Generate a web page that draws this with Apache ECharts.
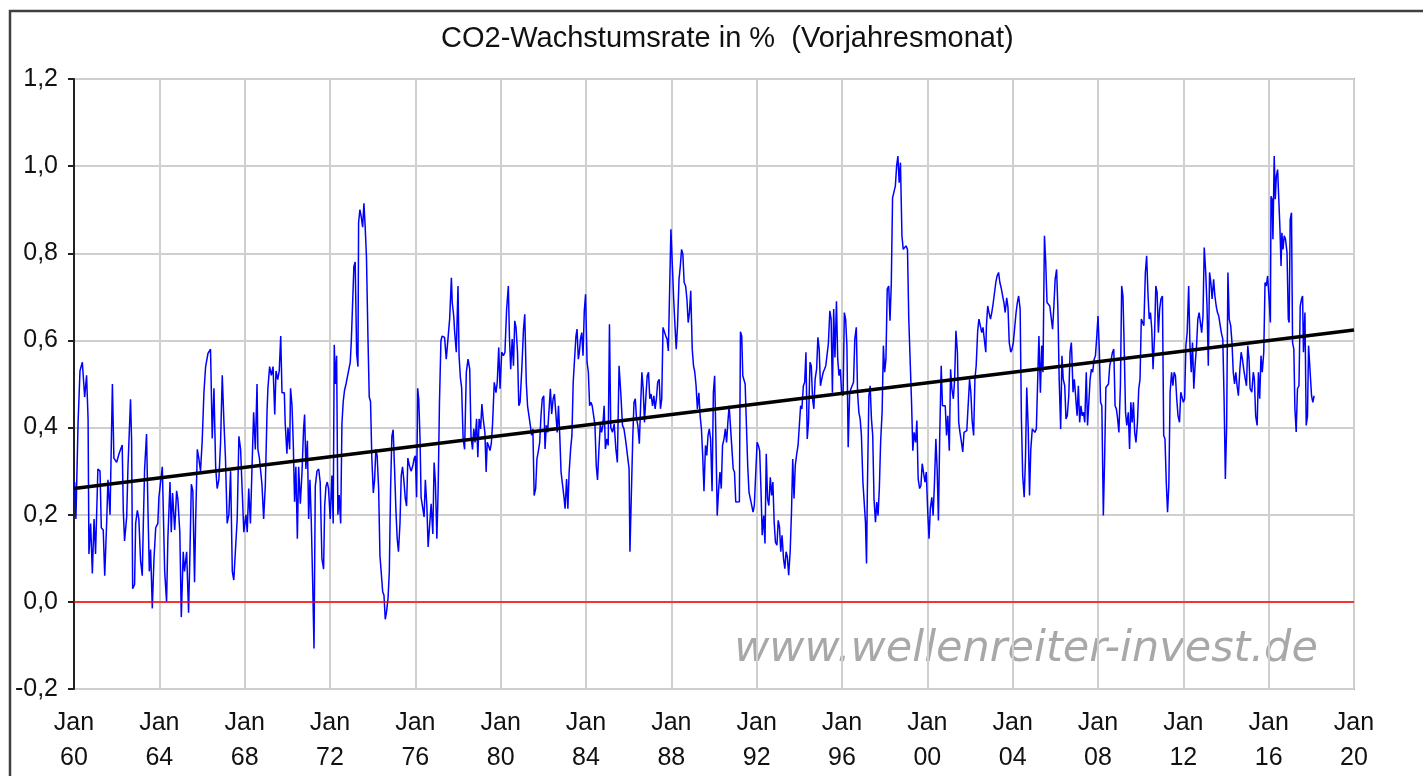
<!DOCTYPE html>
<html>
<head>
<meta charset="utf-8">
<title>CO2-Wachstumsrate</title>
<script src="https://cdn.jsdelivr.net/npm/echarts@6.0.0/dist/echarts.min.js"></script>
<style>
  html, body { margin: 0; padding: 0; background: #fff; }
  #co2_main { width: 1423px; height: 776px; }
</style>
</head>
<body>
<div id="co2_main"></div>
<script>
// Monatswerte (Dezimaljahr, Wachstum in % gg. Vorjahresmonat)
var zeitreihe = [
  [1960.03,0.275],[1960.09,0.19],[1960.19,0.41],[1960.28,0.53],[1960.39,0.55],[1960.50,0.47],[1960.59,0.52],[1960.66,0.42],[1960.70,0.11],[1960.78,0.18],[1960.86,0.065],[1960.94,0.19],[1961.01,0.11],[1961.12,0.305],[1961.22,0.30],[1961.28,0.17],[1961.37,0.165],[1961.44,0.06],[1961.53,0.18],[1961.59,0.28],[1961.69,0.20],[1961.80,0.50],[1961.87,0.33],[1962.00,0.32],[1962.11,0.34],[1962.26,0.36],[1962.31,0.21],[1962.37,0.14],[1962.47,0.195],[1962.53,0.31],[1962.65,0.465],[1962.70,0.37],[1962.75,0.03],[1962.84,0.04],[1962.89,0.18],[1962.97,0.21],[1963.04,0.19],[1963.12,0.095],[1963.20,0.06],[1963.25,0.18],[1963.31,0.305],[1963.40,0.385],[1963.47,0.205],[1963.53,0.07],[1963.59,0.12],[1963.67,-0.015],[1963.75,0.10],[1963.83,0.17],[1963.93,0.18],[1963.98,0.24],
  [1964.14,0.31],[1964.25,0.07],[1964.34,0.0],[1964.40,0.145],[1964.50,0.275],[1964.56,0.16],[1964.62,0.25],[1964.72,0.165],[1964.81,0.255],[1964.87,0.235],[1964.96,0.16],[1965.03,-0.035],[1965.12,0.115],[1965.18,0.07],[1965.28,0.115],[1965.37,-0.025],[1965.43,0.10],[1965.50,0.27],[1965.57,0.255],[1965.65,0.045],[1965.70,0.18],[1965.78,0.35],[1965.85,0.33],[1965.93,0.30],[1966.01,0.37],[1966.09,0.48],[1966.17,0.54],[1966.28,0.57],[1966.40,0.58],[1966.48,0.375],[1966.56,0.49],[1966.64,0.31],[1966.71,0.26],[1966.79,0.28],[1966.87,0.365],[1966.95,0.52],[1967.03,0.41],[1967.10,0.33],[1967.18,0.18],[1967.26,0.20],[1967.34,0.30],[1967.42,0.07],[1967.49,0.05],[1967.57,0.12],[1967.65,0.19],[1967.73,0.38],[1967.81,0.35],[1967.88,0.26],[1967.96,0.16],
  [1968.06,0.20],[1968.12,0.16],[1968.19,0.26],[1968.27,0.18],[1968.34,0.30],[1968.42,0.435],[1968.50,0.35],[1968.58,0.50],[1968.62,0.35],[1968.69,0.33],[1968.75,0.30],[1968.81,0.27],[1968.89,0.19],[1968.97,0.27],[1969.05,0.44],[1969.09,0.49],[1969.17,0.54],[1969.25,0.52],[1969.33,0.54],[1969.41,0.43],[1969.47,0.53],[1969.55,0.51],[1969.62,0.53],[1969.69,0.61],[1969.75,0.48],[1969.86,0.48],[1969.90,0.41],[1969.98,0.34],[1970.03,0.40],[1970.11,0.35],[1970.15,0.49],[1970.22,0.45],[1970.28,0.36],[1970.34,0.23],[1970.40,0.31],[1970.47,0.145],[1970.53,0.31],[1970.61,0.225],[1970.69,0.30],[1970.76,0.395],[1970.81,0.43],[1970.87,0.305],[1970.94,0.37],[1971.00,0.19],[1971.06,0.28],[1971.12,0.19],[1971.19,0.04],[1971.25,-0.107],[1971.31,0.265],[1971.39,0.30],[1971.47,0.305],[1971.54,0.275],[1971.62,0.10],[1971.70,0.075],[1971.75,0.22],[1971.81,0.265],[1971.87,0.275],[1971.93,0.26],
  [1972.01,0.19],[1972.09,0.29],[1972.15,0.18],[1972.20,0.59],[1972.25,0.50],[1972.31,0.565],[1972.37,0.20],[1972.43,0.245],[1972.50,0.18],[1972.56,0.41],[1972.62,0.46],[1972.68,0.485],[1972.75,0.50],[1972.81,0.50],[1972.87,0.53],[1972.95,0.55],[1973.00,0.60],[1973.06,0.60],[1973.12,0.77],[1973.18,0.78],[1973.25,0.57],[1973.31,0.54],[1973.34,0.87],[1973.40,0.90],[1973.46,0.885],[1973.53,0.86],[1973.59,0.915],[1973.65,0.86],[1973.71,0.79],[1973.78,0.605],[1973.84,0.47],[1973.90,0.46],[1973.96,0.33],[1974.03,0.25],[1974.09,0.28],[1974.15,0.35],[1974.21,0.335],[1974.28,0.26],[1974.34,0.107],[1974.40,0.107],[1974.47,0.023],[1974.53,0.015],[1974.59,-0.04],[1974.65,-0.023],[1974.72,0.008],[1974.78,0.069],[1974.84,0.26],[1974.90,0.38],[1974.96,0.395],[1975.03,0.30],[1975.09,0.21],[1975.15,0.145],[1975.21,0.115],[1975.28,0.18],[1975.34,0.29],[1975.40,0.31],[1975.46,0.28],[1975.53,0.237],[1975.59,0.22],[1975.65,0.33],[1975.71,0.315],
  [1975.80,0.30],[1975.87,0.31],[1975.95,0.33],[1976.00,0.335],[1976.06,0.24],[1976.11,0.49],[1976.16,0.465],[1976.22,0.375],[1976.27,0.24],[1976.35,0.24],[1976.41,0.195],[1976.47,0.28],[1976.54,0.22],[1976.60,0.126],[1976.66,0.122],[1976.74,0.225],[1976.82,0.156],[1976.88,0.32],[1976.94,0.275],[1977.01,0.145],[1977.07,0.26],[1977.13,0.454],[1977.20,0.60],[1977.26,0.61],[1977.37,0.607],[1977.45,0.557],[1977.53,0.553],[1977.61,0.65],[1977.69,0.744],[1977.73,0.687],[1977.80,0.656],[1977.84,0.622],[1977.92,0.573],[1978.00,0.725],[1978.05,0.565],[1978.11,0.515],[1978.17,0.492],[1978.24,0.374],[1978.31,0.35],[1978.39,0.527],[1978.47,0.557],[1978.55,0.534],[1978.61,0.38],[1978.68,0.35],[1978.74,0.397],[1978.80,0.366],[1978.87,0.42],[1978.93,0.332],[1978.99,0.42],[1979.06,0.397],[1979.12,0.454],[1979.18,0.42],[1979.26,0.389],[1979.32,0.298],[1979.37,0.366],[1979.43,0.359],[1979.50,0.347],[1979.56,0.363],[1979.62,0.408],[1979.70,0.504],[1979.78,0.48],[1979.84,0.504],[1979.91,0.584],[1979.97,0.489],
  [1980.05,0.573],[1980.13,0.565],[1980.20,0.573],[1980.28,0.672],[1980.36,0.725],[1980.41,0.61],[1980.47,0.534],[1980.54,0.603],[1980.60,0.542],[1980.66,0.645],[1980.72,0.63],[1980.79,0.573],[1980.85,0.45],[1980.91,0.458],[1980.99,0.534],[1981.07,0.626],[1981.13,0.66],[1981.20,0.504],[1981.26,0.45],[1981.32,0.454],[1981.39,0.405],[1981.45,0.382],[1981.51,0.397],[1981.57,0.244],[1981.64,0.26],[1981.70,0.328],[1981.76,0.344],[1981.83,0.366],[1981.89,0.427],[1981.95,0.466],[1982.02,0.473],[1982.08,0.351],[1982.14,0.405],[1982.20,0.389],[1982.27,0.385],[1982.33,0.489],[1982.39,0.431],[1982.46,0.466],[1982.52,0.477],[1982.58,0.473],[1982.65,0.389],[1982.71,0.45],[1982.77,0.382],[1982.83,0.298],[1982.90,0.294],[1982.96,0.244],[1983.02,0.214],[1983.09,0.282],[1983.15,0.214],[1983.21,0.298],[1983.28,0.351],[1983.34,0.382],[1983.40,0.504],[1983.46,0.554],
  [1983.53,0.61],[1983.58,0.626],[1983.64,0.557],[1983.69,0.573],[1983.74,0.603],[1983.80,0.618],[1983.86,0.565],[1983.92,0.668],[1983.98,0.706],[1984.05,0.55],[1984.11,0.527],[1984.17,0.45],[1984.23,0.458],[1984.29,0.45],[1984.36,0.427],[1984.42,0.405],[1984.48,0.313],[1984.54,0.28],[1984.60,0.344],[1984.67,0.408],[1984.73,0.389],[1984.79,0.405],[1984.85,0.45],[1984.91,0.351],[1984.98,0.374],[1985.04,0.359],[1985.10,0.637],[1985.16,0.4],[1985.24,0.389],[1985.32,0.408],[1985.40,0.351],[1985.47,0.32],[1985.55,0.542],[1985.63,0.48],[1985.71,0.405],[1985.78,0.397],[1985.86,0.37],[1985.94,0.366],[1986.02,0.305],[1986.06,0.115],[1986.12,0.115],[1986.19,0.374],[1986.25,0.458],[1986.31,0.466],[1986.37,0.42],[1986.43,0.405],[1986.50,0.363],[1986.56,0.45],[1986.62,0.527],[1986.68,0.489],[1986.74,0.412],[1986.81,0.473],[1986.87,0.519],[1986.93,0.527],[1986.99,0.466],[1987.05,0.477],[1987.12,0.45],[1987.18,0.473],[1987.24,0.443],[1987.30,0.466],[1987.36,0.504],[1987.43,0.511],[1987.49,0.443],[1987.55,0.466],[1987.61,0.63],[1987.67,0.626],[1987.74,0.61],[1987.80,0.603],[1987.86,0.576],[1987.92,0.573],[1987.98,0.855],
  [1988.05,0.77],[1988.11,0.695],[1988.17,0.634],[1988.23,0.58],[1988.29,0.634],[1988.36,0.74],[1988.42,0.77],[1988.48,0.809],[1988.54,0.798],[1988.60,0.733],[1988.67,0.725],[1988.73,0.695],[1988.79,0.641],[1988.85,0.664],[1988.91,0.714],[1988.98,0.58],[1989.04,0.542],[1989.10,0.527],[1989.16,0.496],[1989.22,0.443],[1989.29,0.48],[1989.35,0.427],[1989.41,0.397],[1989.47,0.336],[1989.53,0.254],[1989.60,0.359],[1989.66,0.336],[1989.72,0.382],[1989.78,0.397],[1989.84,0.374],[1989.91,0.254],[1989.97,0.481],[1990.03,0.519],[1990.09,0.374],[1990.15,0.198],[1990.22,0.26],[1990.28,0.298],[1990.34,0.26],[1990.40,0.359],[1990.47,0.374],[1990.53,0.397],[1990.59,0.366],[1990.65,0.412],[1990.71,0.45],[1990.78,0.397],[1990.84,0.351],[1990.90,0.305],[1990.96,0.298],[1991.02,0.229],
  [1991.19,0.23],[1991.24,0.62],[1991.30,0.61],[1991.35,0.519],[1991.41,0.515],[1991.46,0.5],[1991.52,0.405],[1991.58,0.313],[1991.64,0.252],[1991.71,0.252],[1991.77,0.221],[1991.83,0.206],[1991.89,0.221],[1991.95,0.218],[1992.02,0.366],[1992.08,0.359],[1992.14,0.347],[1992.20,0.26],[1992.26,0.153],[1992.33,0.198],[1992.39,0.134],[1992.45,0.34],[1992.51,0.237],[1992.57,0.221],[1992.64,0.286],[1992.70,0.244],[1992.76,0.275],[1992.82,0.183],[1992.88,0.137],[1992.95,0.13],[1993.01,0.187],[1993.07,0.172],[1993.13,0.115],[1993.19,0.153],[1993.26,0.099],[1993.32,0.076],[1993.38,0.115],[1993.44,0.103],[1993.50,0.061],[1993.57,0.115],[1993.63,0.202],[1993.69,0.328],[1993.75,0.237],[1993.81,0.313],[1993.88,0.34],[1993.94,0.359],[1994.00,0.359],[1994.06,0.45],[1994.12,0.443],[1994.19,0.496],[1994.25,0.504],[1994.31,0.573],[1994.37,0.374],[1994.43,0.412],[1994.50,0.55],[1994.56,0.542],[1994.62,0.466],[1994.68,0.443],[1994.74,0.511],[1994.81,0.534],[1994.87,0.607],[1994.93,0.58],[1994.99,0.496],[1995.05,0.511],[1995.12,0.527],[1995.18,0.534],[1995.24,0.542],[1995.30,0.546],[1995.36,0.592],[1995.43,0.668],[1995.49,0.649],[1995.55,0.48],[1995.61,0.672],[1995.67,0.561],[1995.74,0.69],[1995.80,0.557],[1995.86,0.519],[1995.92,0.534],[1995.98,0.48],
  [1996.05,0.473],[1996.11,0.664],[1996.17,0.649],[1996.23,0.588],[1996.29,0.355],[1996.36,0.48],[1996.42,0.489],[1996.48,0.492],[1996.54,0.504],[1996.60,0.603],[1996.67,0.63],[1996.73,0.48],[1996.79,0.435],[1996.85,0.42],[1996.91,0.382],[1996.98,0.275],[1997.04,0.275],[1997.10,0.183],[1997.15,0.088],[1997.19,0.26],[1997.26,0.473],[1997.32,0.496],[1997.38,0.42],[1997.44,0.382],[1997.50,0.237],[1997.57,0.183],[1997.63,0.229],[1997.69,0.198],[1997.75,0.26],[1997.81,0.366],[1997.88,0.435],[1997.94,0.588],[1998.00,0.527],[1998.06,0.557],[1998.12,0.718],[1998.19,0.725],[1998.25,0.645],[1998.31,0.729],[1998.37,0.927],[1998.43,0.931],[1998.50,0.954],[1998.56,1.0],[1998.62,1.023],[1998.68,0.962],[1998.74,1.008],[1998.81,0.84],[1998.87,0.809],
  [1998.94,0.809],[1999.00,0.817],[1999.07,0.809],[1999.13,0.649],[1999.19,0.645],[1999.26,0.458],[1999.32,0.347],[1999.38,0.389],[1999.45,0.366],[1999.51,0.416],[1999.57,0.282],[1999.64,0.26],[1999.70,0.267],[1999.76,0.317],[1999.83,0.313],[1999.89,0.275],[1999.95,0.298],[2000.02,0.206],[2000.08,0.145],[2000.14,0.214],[2000.21,0.24],[2000.27,0.198],[2000.33,0.267],[2000.40,0.374],[2000.46,0.305],[2000.52,0.187],[2000.58,0.378],[2000.65,0.542],[2000.71,0.45],[2000.77,0.447],[2000.84,0.45],[2000.90,0.382],[2000.96,0.427],[2001.03,0.347],[2001.09,0.534],[2001.15,0.489],[2001.22,0.466],[2001.28,0.511],[2001.34,0.622],[2001.41,0.573],[2001.47,0.412],[2001.53,0.389],[2001.60,0.366],[2001.66,0.344],[2001.72,0.389],[2001.79,0.389],[2001.85,0.393],[2001.91,0.389],[2001.98,0.511],[2002.04,0.48],[2002.10,0.416],[2002.17,0.382],[2002.23,0.511],[2002.29,0.542],[2002.36,0.622],[2002.42,0.649],[2002.48,0.645],[2002.55,0.618],[2002.61,0.63],[2002.67,0.603],[2002.74,0.573],[2002.77,0.634],[2002.83,0.679],[2002.89,0.664],[2002.96,0.649],[2003.02,0.664],[2003.08,0.683],[2003.15,0.683],[2003.21,0.733],[2003.27,0.748],[2003.34,0.756],[2003.40,0.733],[2003.46,0.721],[2003.53,0.702],[2003.59,0.687],[2003.65,0.664],[2003.72,0.698],[2003.78,0.676],[2003.84,0.595],[2003.91,0.573],[2003.97,0.58],
  [2004.03,0.595],[2004.09,0.595],[2004.16,0.664],[2004.22,0.687],[2004.28,0.702],[2004.35,0.672],[2004.41,0.42],[2004.47,0.29],[2004.54,0.24],[2004.60,0.328],[2004.66,0.492],[2004.73,0.397],[2004.79,0.244],[2004.85,0.35],[2004.92,0.397],[2004.98,0.397],[2005.04,0.389],[2005.11,0.397],[2005.17,0.397],[2005.23,0.61],[2005.30,0.48],[2005.36,0.588],[2005.42,0.527],[2005.49,0.84],[2005.55,0.779],[2005.61,0.687],[2005.68,0.683],[2005.74,0.679],[2005.80,0.679],[2005.87,0.626],[2005.93,0.676],[2005.99,0.74],[2006.06,0.763],[2006.12,0.672],[2006.18,0.511],[2006.25,0.397],[2006.31,0.565],[2006.37,0.511],[2006.44,0.496],[2006.50,0.42],[2006.56,0.427],[2006.63,0.473],[2006.69,0.573],[2006.75,0.595],
  [2006.77,0.573],[2006.83,0.481],[2006.89,0.511],[2006.95,0.473],[2007.02,0.427],[2007.08,0.496],[2007.14,0.412],[2007.20,0.45],[2007.26,0.427],[2007.32,0.435],[2007.38,0.412],[2007.45,0.527],[2007.51,0.405],[2007.57,0.408],[2007.63,0.511],[2007.69,0.534],[2007.75,0.527],[2007.82,0.557],[2007.88,0.565],[2007.94,0.607],[2008.00,0.656],[2008.06,0.58],[2008.12,0.458],[2008.18,0.45],[2008.25,0.198],[2008.31,0.328],[2008.37,0.492],[2008.43,0.496],[2008.49,0.5],[2008.55,0.542],[2008.62,0.557],[2008.68,0.573],[2008.74,0.58],[2008.80,0.45],[2008.86,0.443],[2008.92,0.42],[2008.98,0.389],[2009.05,0.496],[2009.11,0.725],[2009.17,0.702],[2009.23,0.58],[2009.29,0.435],[2009.35,0.405],[2009.42,0.435],[2009.48,0.351],[2009.54,0.458],[2009.60,0.412],[2009.66,0.458],[2009.72,0.389],[2009.78,0.366],[2009.85,0.412],[2009.91,0.489],[2009.97,0.511],
  [2010.03,0.649],[2010.09,0.649],[2010.15,0.634],[2010.22,0.756],[2010.28,0.794],[2010.34,0.71],[2010.40,0.649],[2010.46,0.664],[2010.52,0.626],[2010.58,0.534],[2010.65,0.61],[2010.71,0.725],[2010.77,0.71],[2010.83,0.618],[2010.89,0.672],[2010.95,0.695],[2011.02,0.702],[2011.08,0.382],[2011.14,0.374],[2011.20,0.275],[2011.26,0.206],[2011.32,0.267],[2011.38,0.481],[2011.45,0.527],[2011.51,0.496],[2011.57,0.527],[2011.63,0.519],[2011.69,0.466],[2011.75,0.427],[2011.82,0.412],[2011.88,0.481],[2011.94,0.481],[2012.00,0.458],[2012.06,0.466],[2012.12,0.588],[2012.18,0.618],[2012.25,0.725],[2012.31,0.588],[2012.37,0.527],[2012.43,0.595],[2012.49,0.489],[2012.55,0.542],[2012.62,0.588],[2012.68,0.649],[2012.74,0.664],[2012.80,0.641],[2012.86,0.618],[2012.92,0.656],[2012.98,0.813],[2013.05,0.756],[2013.11,0.679],[2013.17,0.542],[2013.23,0.756],[2013.29,0.733],[2013.35,0.695],[2013.42,0.74],[2013.48,0.702],[2013.54,0.679],[2013.60,0.664],[2013.66,0.656],[2013.72,0.656],[2013.78,0.618],[2013.85,0.603],[2013.91,0.466],[2013.97,0.282],
  [2014.03,0.405],[2014.09,0.756],[2014.15,0.649],[2014.22,0.634],[2014.28,0.595],[2014.34,0.527],[2014.40,0.5],[2014.46,0.527],[2014.52,0.496],[2014.58,0.473],[2014.65,0.534],[2014.71,0.573],[2014.77,0.557],[2014.83,0.534],[2014.89,0.515],[2014.96,0.496],[2015.02,0.588],[2015.08,0.557],[2015.13,0.489],[2015.21,0.481],[2015.28,0.527],[2015.33,0.511],[2015.39,0.427],[2015.46,0.405],[2015.52,0.527],[2015.58,0.466],[2015.64,0.565],[2015.70,0.527],[2015.77,0.573],[2015.83,0.733],[2015.89,0.725],[2015.95,0.748],[2016.02,0.695],[2016.08,0.641],[2016.11,0.931],[2016.16,0.924],[2016.20,0.832],[2016.26,1.023],[2016.31,0.924],[2016.36,0.977],[2016.42,0.992],[2016.48,0.996],[2016.53,0.855],[2016.58,0.771],[2016.62,0.847],[2016.67,0.809],[2016.73,0.84],[2016.79,0.832],[2016.86,0.802],[2016.92,0.649],[2016.96,0.641],[2017.01,0.878],[2017.07,0.893],[2017.12,0.595],[2017.18,0.58],[2017.23,0.443],[2017.29,0.39],[2017.35,0.489],[2017.42,0.496],[2017.48,0.679],[2017.54,0.695],[2017.59,0.702],[2017.63,0.573],[2017.70,0.664],[2017.76,0.405],[2017.82,0.427],[2017.87,0.588],[2017.91,0.592],[2017.96,0.588],[2018.01,0.473],[2018.07,0.458],[2018.13,0.473]
];

// lineare Trendlinie (Anfang / Ende)
var trendJahre = [1960, 2020];
var trendWerte = [0.26, 0.624];

var yMin = -0.2, yMax = 1.2, yStep = 0.2;
var xMin = 1960, xMax = 2020, xStep = 4;

var trendDaten = [];
for (var i = 0; i < trendJahre.length; i++) {
  trendDaten.push([trendJahre[i], trendWerte[i]]);
}

var schrift = '"Liberation Sans", Arial, sans-serif';
var chart = echarts.init(document.getElementById('co2_main'));
chart.setOption({
  animation: false,
  backgroundColor: '#ffffff',
  textStyle: { fontFamily: schrift },
  title: {
    text: 'CO2-Wachstumsrate in %  (Vorjahresmonat)',
    left: 436,
    top: 19,
    textStyle: { fontSize: 29, fontWeight: 'normal', color: '#111111', fontFamily: schrift }
  },
  grid: {
    left: 74, right: 69, top: 79, bottom: 86,
    show: true, borderColor: '#a6a6a6', borderWidth: 2
  },
  xAxis: {
    type: 'value',
    min: xMin, max: xMax, interval: xStep,
    axisLine: { show: false },
    axisTick: { show: false },
    axisLabel: {
      formatter: function (v) { return 'Jan\n' + String(v).slice(2); },
      fontSize: 25, lineHeight: 35, margin: 17, color: '#111111', fontFamily: schrift
    },
    splitLine: { show: true, lineStyle: { color: '#cfcfcf', width: 2 } }
  },
  yAxis: {
    type: 'value',
    min: yMin, max: yMax, interval: yStep,
    axisLine: { show: true, lineStyle: { color: '#222222', width: 2 } },
    axisTick: { show: true, length: 6, lineStyle: { color: '#222222', width: 2 } },
    axisLabel: {
      formatter: function (v) {
        if (Math.abs(v) < 1e-9) v = 0;
        return v.toFixed(1).replace('.', ',');
      },
      fontSize: 25, margin: 16, color: '#111111', fontFamily: schrift
    },
    splitLine: { show: true, lineStyle: { color: '#cfcfcf', width: 2 } }
  },
  graphic: [
    {
      type: 'rect', z: 100, silent: true,
      shape: { x: 10, y: 11, width: 1500, height: 900 },
      style: { fill: 'none', stroke: '#404040', lineWidth: 2.5 }
    },
    {
      type: 'text', z: 0, silent: true,
      x: 1026, y: 650,
      style: {
        text: 'www.wellenreiter-invest.de',
        font: 'oblique 43px "DejaVu Sans", Verdana, sans-serif',
        fill: '#a8a8a8',
        align: 'center',
        verticalAlign: 'middle'
      }
    }
  ],
  series: [
    {
      name: 'CO2-Wachstumsrate',
      type: 'line',
      data: zeitreihe,
      showSymbol: false,
      lineStyle: { color: '#0000ff', width: 1.5 },
      z: 3,
      markLine: {
        silent: true,
        symbol: 'none',
        label: { show: false },
        lineStyle: { color: '#ff0000', width: 1.5, type: 'solid' },
        data: [{ yAxis: 0 }]
      }
    },
    {
      name: 'Trend',
      type: 'line',
      data: trendDaten,
      showSymbol: false,
      lineStyle: { color: '#000000', width: 3.5 },
      z: 4
    }
  ]
});
</script>
</body>
</html>
